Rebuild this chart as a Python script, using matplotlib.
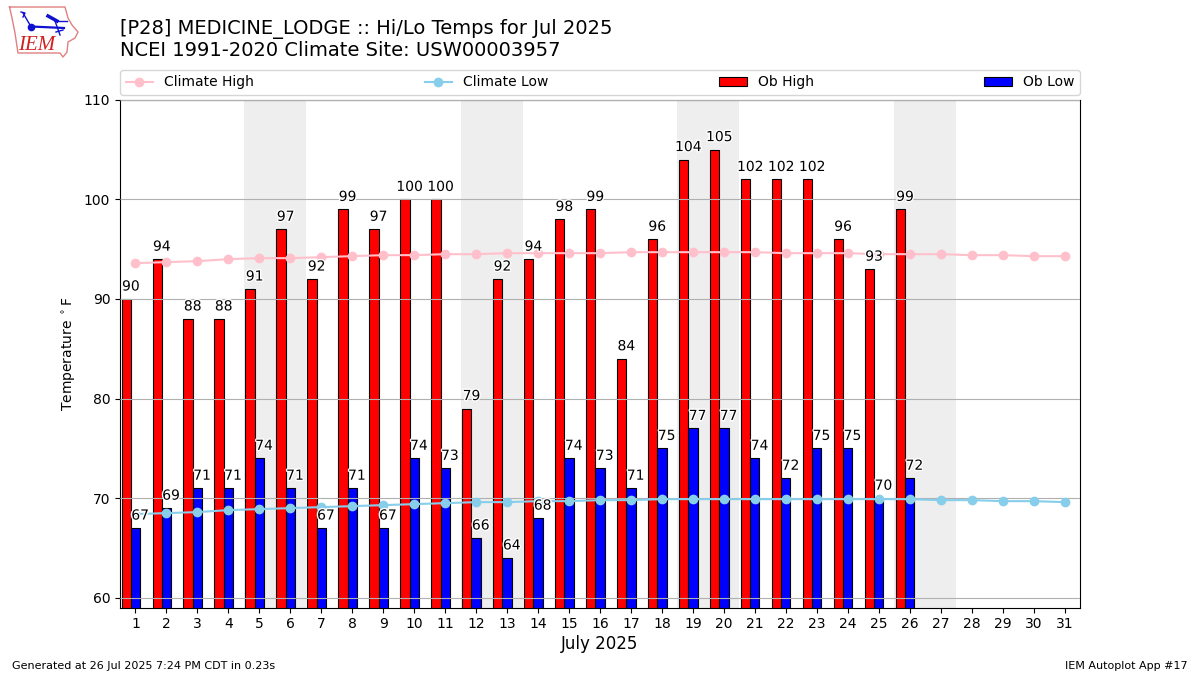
import matplotlib
matplotlib.use("Agg")
import matplotlib.pyplot as plt
import matplotlib.patheffects as pe

days = list(range(1, 32))
ob_days = list(range(1, 27))
ob_high = [90, 94, 88, 88, 91, 97, 92, 99, 97, 100, 100, 79, 92, 94, 98, 99, 84, 96, 104, 105, 102, 102, 102, 96, 93, 99]
ob_low = [67, 69, 71, 71, 74, 71, 67, 71, 67, 74, 73, 66, 64, 68, 74, 73, 71, 75, 77, 77, 74, 72, 75, 75, 70, 72]
climate_high = [93.6, 93.7, 93.8, 94.0, 94.1, 94.1, 94.2, 94.3, 94.4, 94.4, 94.5, 94.5, 94.6, 94.6, 94.6, 94.6,
                94.7, 94.7, 94.7, 94.7, 94.7, 94.6, 94.6, 94.6, 94.5, 94.5, 94.5, 94.4, 94.4, 94.3, 94.3]
climate_low = [68.4, 68.5, 68.6, 68.8, 68.9, 69.0, 69.1, 69.2, 69.3, 69.4, 69.5, 69.6, 69.6, 69.7, 69.7, 69.8,
               69.8, 69.9, 69.9, 69.9, 69.9, 69.9, 69.9, 69.9, 69.9, 69.9, 69.8, 69.8, 69.7, 69.7, 69.6]
weekends = [(5, 6), (12, 13), (19, 20), (26, 27)]

W, H = 1200, 675
fig = plt.figure(figsize=(12, 6.75), dpi=100)
ax = fig.add_axes([120 / W, 1 - 607.7 / H, 960 / W, 507.9 / H])

for a, b in weekends:
    ax.axvspan(a - 0.5, b + 0.5, color="#eeeeee", lw=0, zorder=0)

ax.bar([d - 0.3 for d in ob_days], ob_high, width=0.3, color="red", edgecolor="black",
       linewidth=0.8, label="Ob High", zorder=2)
ax.bar(ob_days, ob_low, width=0.3, color="blue", edgecolor="black",
       linewidth=0.8, label="Ob Low", zorder=2)
ax.plot(days, climate_high, color="pink", marker="o", label="Climate High", zorder=4)
ax.plot(days, climate_low, color="skyblue", marker="o", label="Climate Low", zorder=4)

halo = [pe.withStroke(linewidth=2, foreground="white")]
for d, v in zip(ob_days, ob_high):
    ax.text(d - 0.15, v + 0.55, str(v), ha="center", va="bottom", fontsize=10, zorder=5, path_effects=halo)
for d, v in zip(ob_days, ob_low):
    ax.text(d + 0.15, v + 0.55, str(v), ha="center", va="bottom", fontsize=10, zorder=5, path_effects=halo)

ax.set_xlim(0.5, 31.5)
ax.set_ylim(59, 110)
ax.set_xticks(days)
ax.set_yticks(range(60, 111, 10))
ax.tick_params(labelsize=10)
ax.yaxis.grid(True, color="#b0b0b0", lw=0.8, zorder=3)
ax.set_axisbelow(False)
ax.set_xlabel("July 2025", fontsize=12, labelpad=2.5)
ax.set_ylabel(r"Temperature $^\circ$F", fontsize=10)

handles, labels = ax.get_legend_handles_labels()
order = [labels.index(n) for n in ["Climate High", "Climate Low", "Ob High", "Ob Low"]]
ax.legend([handles[i] for i in order], [labels[i] for i in order], ncol=4, mode="expand",
          loc="lower left", bbox_to_anchor=(0, 1.0095, 1, 0.05), borderaxespad=0, fontsize=10)

fig.text(120 / W, 1 - 28.6 / H, "[P28] MEDICINE_LODGE :: Hi/Lo Temps for Jul 2025", fontsize=14, va="center")
fig.text(120 / W, 1 - 50.6 / H, "NCEI 1991-2020 Climate Site: USW00003957", fontsize=14, va="center")
fig.text(12 / W, 1 - 666 / H, "Generated at 26 Jul 2025 7:24 PM CDT in 0.23s", fontsize=8, va="center")
fig.text(1188 / W, 1 - 666 / H, "IEM Autoplot App #17", fontsize=8, va="center", ha="right")

# logo drawn in pixel coordinates
logo = fig.add_axes([0, 1 - 60 / H, 85 / W, 60 / H])
logo.set_xlim(0, 85)
logo.set_ylim(60, 0)
logo.axis("off")
ox = [9.5, 65, 68, 72, 78, 75, 68, 67, 63, 60, 18, 15, 12, 9.5]
oy = [7, 7, 18, 25, 32, 38, 42, 52, 57, 53, 53, 33, 18, 7]
logo.plot(ox, oy, color="#e08080", lw=1)
logo.plot([31, 64], [26.5, 28], color="#1010d0", lw=1.6)
logo.plot([23, 30], [13, 25], color="#1010d0", lw=1)
logo.plot([21, 25, 23], [12, 13, 17], color="#1010d0", lw=1)
logo.plot([48, 57], [16, 21], color="#1010d0", lw=2.5)
logo.plot([57, 67], [21, 21], color="#1010d0", lw=1)
logo.plot([55, 60], [21, 35], color="#1010d0", lw=1)
logo.plot([56, 63], [32, 30], color="#1010d0", lw=1)
logo.plot([31], [27], "o", color="#1010d0", ms=4.5)
logo.text(37, 45, "IEM", color="#d02020", fontsize=15, style="italic", family="Liberation Serif",
          ha="center", va="center")

fig.savefig("out.png", dpi=100)
